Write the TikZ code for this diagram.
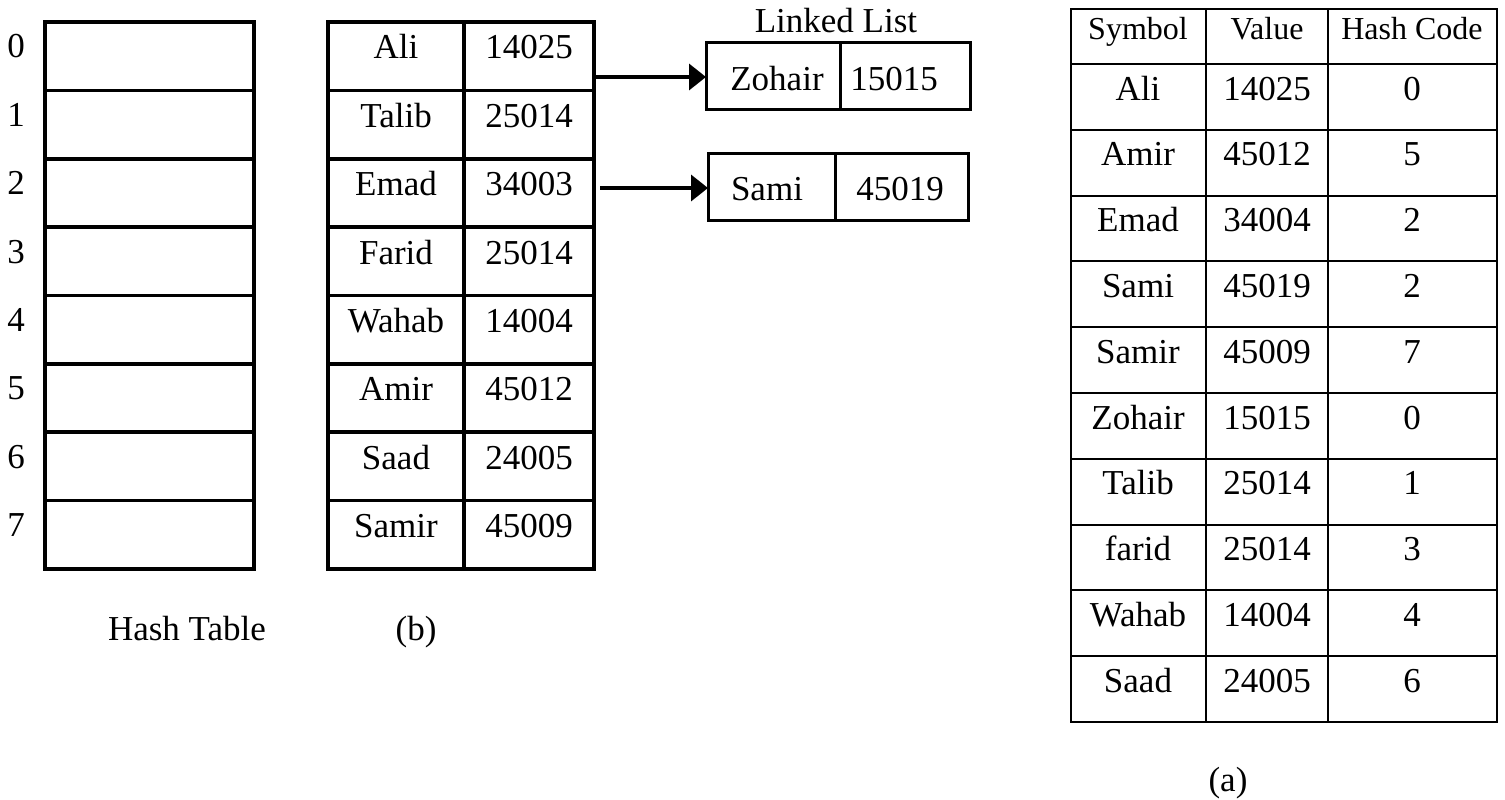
\documentclass[tikz,border=0pt]{standalone}
\usepackage{fontspec}
\setmainfont{Liberation Serif}
\usetikzlibrary{arrows.meta}
\begin{document}
\begin{tikzpicture}[x=1pt,y=-1pt,
  thickgrid/.style={line width=3.6pt},
  thingrid/.style={line width=2pt},
  txt/.style={anchor=base,inner sep=0pt,font=\fontsize{35}{40}\selectfont},
  hdr/.style={anchor=base,inner sep=0pt,font=\fontsize{32}{36}\selectfont},
  ptr/.style={line width=3.6pt,-{Triangle[length=17pt,width=26pt]}},
  box/.style={draw,rectangle,inner sep=0pt,outer sep=0pt,anchor=north west}
]
\useasboundingbox (0,0) rectangle (1505,800);

% ---------- Hash table ----------
\node[box,line width=3.6pt,minimum width=209pt,minimum height=547pt] (ht) at (45,22) {};
\foreach \k in {1,...,7} \draw[thickgrid] (45,{22+68.375*\k}) -- (254,{22+68.375*\k});
\foreach \k in {0,...,7} \node[txt] (i\k) at (16,{58+68.375*\k}) {\k};
\node[txt] (htlabel) at (187,640) {Hash Table};

% ---------- Table (b) ----------
\node[box,line width=3.6pt,minimum width=266pt,minimum height=547pt] (tb) at (328,22) {};
\draw[thickgrid] (464,22) -- (464,569);
\foreach \k in {1,...,7} \draw[thickgrid] (328,{22+68.375*\k}) -- (594,{22+68.375*\k});
\foreach \n/\v [count=\k from 0] in {Ali/14025,Talib/25014,Emad/34003,Farid/25014,Wahab/14004,Amir/45012,Saad/24005,Samir/45009} {
  \node[txt] (bn\k) at (396,{59+68.375*\k}) {\n};
  \node[txt] (bv\k) at (529,{59+68.375*\k}) {\v};
}
\node[txt] (blabel) at (416,640) {(b)};

% ---------- Linked list ----------
\node[txt] (lltitle) at (836,33) {Linked List};
\node[box,line width=3pt,minimum width=264pt,minimum height=66pt] (ll1) at (706,43) {};
\draw[line width=3pt] (840,43) -- (840,109);
\node[txt] (ll1n) at (777,90) {Zohair};
\node[txt] (ll1v) at (894,90) {15015};
\node[box,line width=3pt,minimum width=260pt,minimum height=67pt] (ll2) at (708,153) {};
\draw[line width=3pt] (835,153) -- (835,220);
\node[txt] (ll2n) at (767,200) {Sami};
\node[txt] (ll2v) at (900,200) {45019};

\coordinate (s0) at (596,77);
\coordinate (s2) at (600,188);
\draw[ptr] (s0) -- (s0 -| ll1.west);
\draw[ptr] (s2) -- (s2 -| ll2.west);

% ---------- Table (a) ----------
\node[box,line width=2pt,minimum width=426pt,minimum height=713pt] (ta) at (1071,9) {};
\draw[thingrid] (1206,9) -- (1206,722);
\draw[thingrid] (1328,9) -- (1328,722);
\foreach \k in {0,...,9} \draw[thingrid] (1071,{64+65.8*\k}) -- (1497,{64+65.8*\k});
\node[hdr] (hs) at (1138,40) {Symbol};
\node[hdr] (hv) at (1267,40) {Value};
\node[hdr] (hc) at (1412,40) {Hash Code};
\foreach \n/\v/\c [count=\k from 0] in {Ali/14025/0,Amir/45012/5,Emad/34004/2,Sami/45019/2,Samir/45009/7,Zohair/15015/0,Talib/25014/1,farid/25014/3,Wahab/14004/4,Saad/24005/6} {
  \node[txt] (an\k) at (1138,{100+65.8*\k}) {\n};
  \node[txt] (av\k) at (1267,{100+65.8*\k}) {\v};
  \node[txt] (ac\k) at (1412,{100+65.8*\k}) {\c};
}
\node[txt] (alabel) at (1228,791) {(a)};
\end{tikzpicture}
\end{document}
